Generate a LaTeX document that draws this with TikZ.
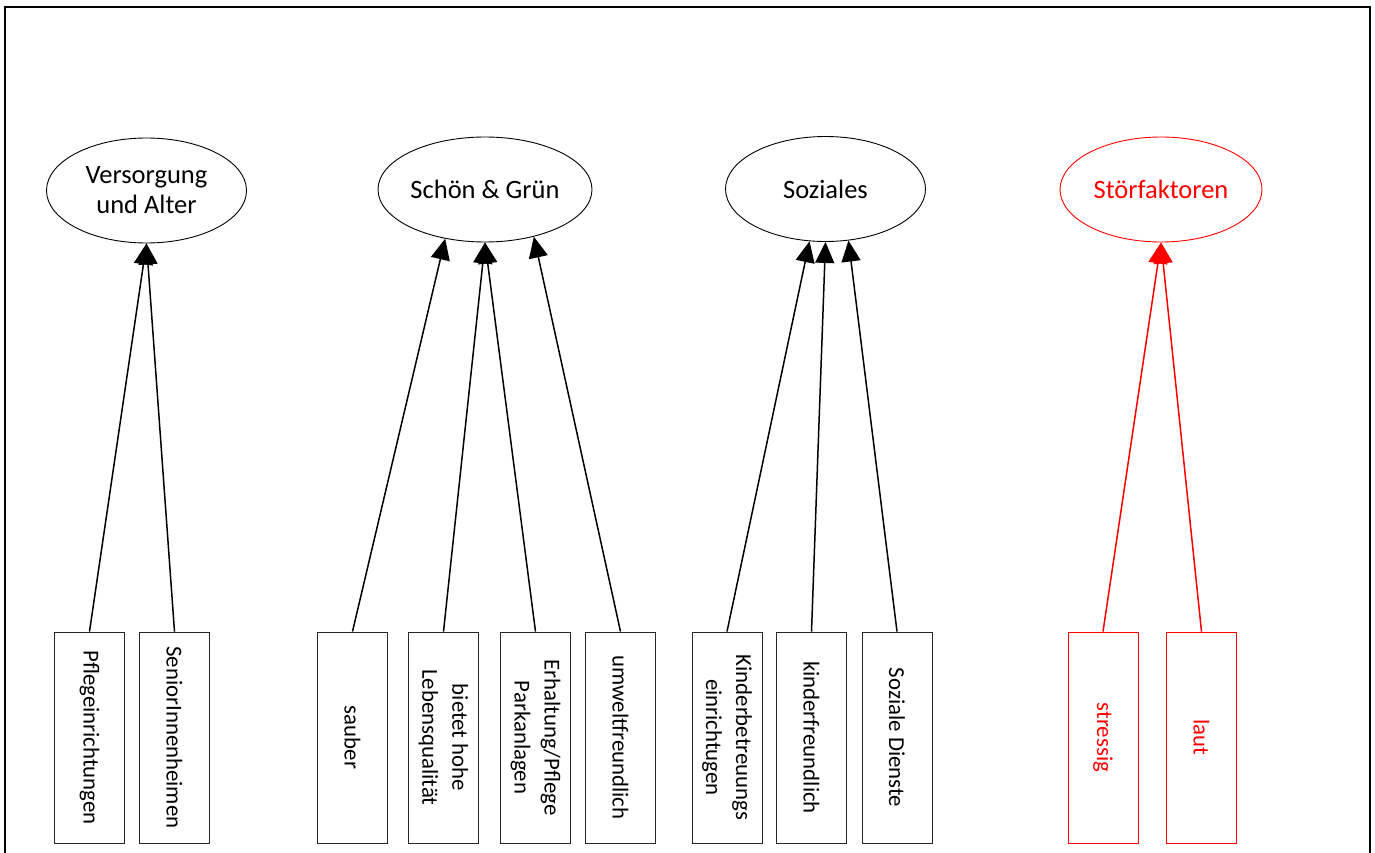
\documentclass[tikz,border=0pt]{standalone}
\usepackage{fontspec}
\setmainfont{Carlito}
\usetikzlibrary{arrows.meta,shapes.geometric}
\begin{document}
\begin{tikzpicture}[x=1pt,y=-1pt,
  cat/.style={ellipse,draw=black,line width=0.9pt,minimum width=200pt,minimum height=105pt,inner sep=0pt,align=center,font=\fontsize{26.5}{30}\selectfont},
  item/.style={rectangle,draw=black!85,line width=0.9pt,rotate=-90,minimum width=211pt,minimum height=70pt,inner sep=0pt,align=center,font=\fontsize{22.8}{30}\selectfont},
  link/.style={line width=1.5pt,-{Triangle[length=21pt,width=19pt]}},
  bad/.style={draw=red,text=red}
]
\useasboundingbox (0,0) rectangle (1375,853);
\draw[line width=1.4pt] (5,853) -- (5,7) -- (1370,7) -- (1370,853);

\node[cat] (va) at (146.5,190.5) {Versorgung\\und Alter};
\node[cat,minimum width=214pt] (sg) at (485,189.5) {Schön \& Grün};
\node[cat] (so) at (825.5,189) {Soziales};
\node[cat,bad,minimum width=202pt] (st) at (1161,189.5) {Störfaktoren};

\node[item] (b1) at (89.5,737.5) {Pflegeinrichtungen};
\node[item] (b2) at (174.5,737.5) {SeniorInnenheimen};
\node[item] (b3) at (352.5,737.5) {sauber};
\node[item] (b4) at (443.5,737.5) {bietet hohe\\Lebensqualität};
\node[item] (b5) at (535.5,737.5) {Erhaltung/Pflege\\Parkanlagen};
\node[item] (b6) at (620.5,737.5) {umweltfreundlich};
\node[item] (b7) at (727,737.5) {Kinderbetreuungs\\einrichtugen};
\node[item] (b8) at (811.5,737.5) {kinderfreundlich};
\node[item] (b9) at (897,737.5) {Soziale Dienste};
\node[item,bad] (b10) at (1103,737.5) {stressig};
\node[item,bad] (b11) at (1201.5,737.5) {laut};

\draw[link] (b1.west) -- (va.south);
\draw[link] (b2.west) -- (va.south);
\draw[link] (b3.west) -- (sg.-129.3);
\draw[link] (b4.west) -- (sg.south);
\draw[link] (b5.west) -- (sg.south);
\draw[link] (b6.west) -- (sg.-44.7);
\draw[link] (b7.west) -- (so.-107.6);
\draw[link] (b8.west) -- (so.south);
\draw[link] (b9.west) -- (so.-66.6);
\draw[link,red] (b10.west) -- (st.south);
\draw[link,red] (b11.west) -- (st.south);
\end{tikzpicture}
\end{document}
